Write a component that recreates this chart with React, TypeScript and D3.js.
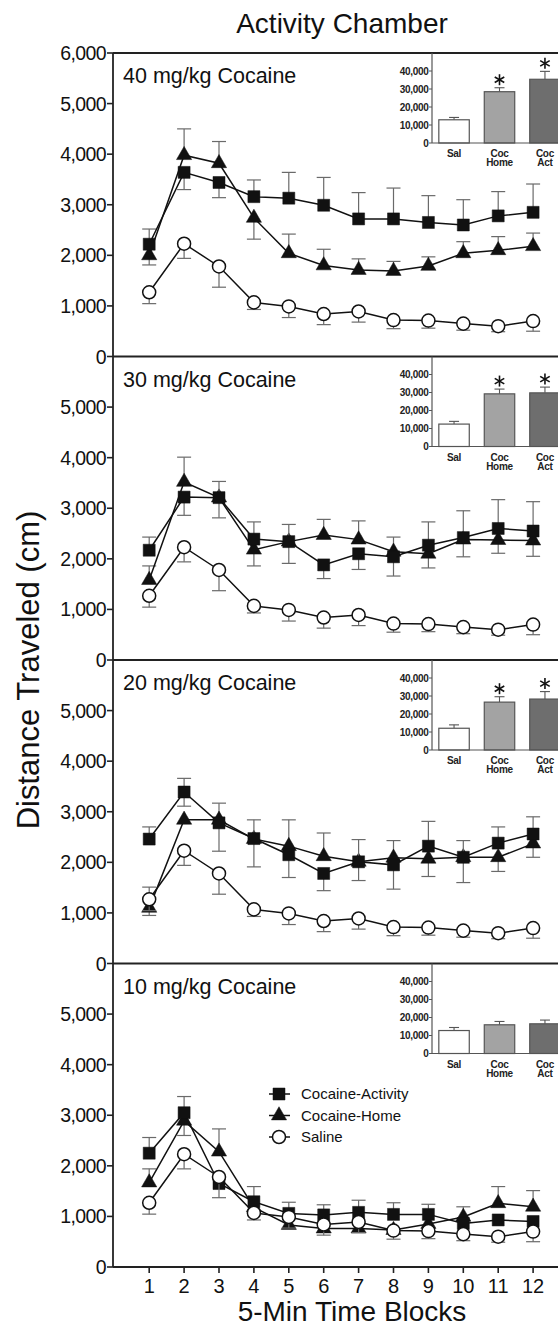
import * as d3 from "d3";

const FONT = "'Liberation Sans', Arial, Helvetica, sans-serif";

const blocks = [1, 2, 3, 4, 5, 6, 7, 8, 9, 10, 11, 12];
const panelLabels = ["40 mg/kg Cocaine", "30 mg/kg Cocaine", "20 mg/kg Cocaine", "10 mg/kg Cocaine"];
const yTicksTop = [0, 1000, 2000, 3000, 4000, 5000, 6000];
const yTicksLower = [0, 1000, 2000, 3000, 4000, 5000];

type Maybe = number | null;
const _ = null;

// Cocaine-Activity (squares), one row per dose panel
const cocActivity = [
  [2220, 3640, 3440, 3160, 3130, 2990, 2720, 2720, 2650, 2600, 2780, 2850],
  [2170, 3220, 3210, 2390, 2340, 1880, 2100, 2040, 2270, 2420, 2600, 2550],
  [2460, 3390, 2780, 2470, 2150, 1780, 2010, 1950, 2320, 2100, 2380, 2560],
  [2250, 3050, 1650, 1290, 1060, 1030, 1080, 1040, 1040, 860, 930, 900],
];
const cocActivityHi: Maybe[][] = [
  [2520, _, _, 3490, 3640, 3540, 3240, 3330, 3180, 3100, 3260, 3410],
  [2430, _, 3530, 2730, 2680, _, _, _, 2730, 2950, 3170, 3130],
  [2700, 3660, _, 2840, _, _, 2450, _, 2810, 2430, 2700, 2900],
  [2560, 3370, _, 1590, 1280, 1230, 1320, 1270, 1240, _, _, _],
];
const cocActivityLo: Maybe[][] = [
  [_, 3300, 3140, _, _, _, _, _, _, _, _, _],
  [_, 2860, 2810, _, 1910, 1610, 1790, 1660, _, _, _, _],
  [_, 3110, 2220, _, 1700, 1440, 1640, 1470, _, 1600, _, _],
  [_, _, _, _, _, _, _, _, _, _, _, _],
];

// Cocaine-Home (triangles)
const cocHome = [
  [2000, 3980, 3820, 2740, 2040, 1800, 1710, 1690, 1790, 2040, 2100, 2180],
  [1580, 3520, 3210, 2180, 2340, 2470, 2380, 2140, 2100, 2380, 2370, 2360],
  [1100, 2840, 2840, 2460, 2320, 2120, 2010, 2090, 2070, 2100, 2100, 2370],
  [1670, 2890, 2280, 1180, 830, 760, 760, 730, 850, 990, 1260, 1190],
];
const cocHomeHi: Maybe[][] = [
  [_, 4500, 4250, _, 2420, 2120, 1930, 1880, 1970, 2270, 2370, 2440],
  [1860, 4010, _, _, _, 2780, 2750, 2430, _, _, _, _],
  [1510, _, 3170, _, 2840, 2580, _, 2430, _, _, _, _],
  [1940, _, 2730, _, _, _, _, _, _, 1190, 1590, 1510],
];
const cocHomeLo: Maybe[][] = [
  [1810, _, _, 2320, _, _, _, _, _, _, _, _],
  [_, _, _, 1860, _, _, _, _, 1820, 2040, 2110, 2050],
  [950, _, _, 1910, _, _, _, _, 1720, _, 1820, 2100],
  [_, 2600, _, _, _, _, _, _, _, _, _, _],
];

// Saline (open circles), same group in every panel
const saline = [1270, 2230, 1780, 1070, 990, 840, 890, 720, 710, 650, 600, 700];
const salineLo = [1045, 1940, 1370, 930, 770, 630, 680, 550, 560, 520, 490, 500];

// inset: total distance
const insetGroups = ["Sal", "Coc Home", "Coc Act"];
const insetLabels = [["Sal"], ["Coc", "Home"], ["Coc", "Act"]];
const insetFills = ["#ffffff", "#a3a3a3", "#6e6e6e"];
const insetTicks = [0, 10000, 20000, 30000, 40000];
const insetTotals = [
  [12900, 28500, 35400],
  [12450, 29250, 29800],
  [12080, 26600, 28300],
  [12760, 15950, 16500],
];
const insetErr = [
  [14200, 30700, 39800],
  [13960, 31900, 33000],
  [13960, 29600, 32450],
  [14450, 17800, 18570],
];
const insetSig = [
  [false, true, true],
  [false, true, true],
  [false, true, true],
  [false, false, false],
];

const legendItems = ["Cocaine-Activity", "Cocaine-Home", "Saline"];

const W = 558;
const H = 1328;
const X0 = 113;
const PANEL_TOP = 53;
const PANEL_H = 303.5;
const fmt = d3.format(",");

const x = d3.scaleLinear().domain([0, 13]).range([114.3, 114.3 + 13 * 34.9]);

const squarePath = d3.symbol().type(d3.symbolSquare).size(144)() ?? "";
const trianglePath = d3.symbol().type(d3.symbolTriangle).size(100)() ?? "";
const circlePath = d3.symbol().type(d3.symbolCircle).size(133)() ?? "";

function ErrorBars({ means, caps, y }: { means: number[]; caps: Maybe[]; y: d3.ScaleLinear<number, number> }) {
  return (
    <g stroke="#6a6a6a" strokeWidth={1.2}>
      {means.map((m, i) => {
        const c = caps[i];
        if (c == null) return null;
        const cx = x(blocks[i]);
        return (
          <g key={i}>
            <line x1={cx} x2={cx} y1={y(m)} y2={y(c)} />
            <line x1={cx - 7} x2={cx + 7} y1={y(c)} y2={y(c)} />
          </g>
        );
      })}
    </g>
  );
}

function Series({
  means,
  y,
  marker,
  fill,
}: {
  means: number[];
  y: d3.ScaleLinear<number, number>;
  marker: string;
  fill: string;
}) {
  const line = d3
    .line<number>()
    .x((_, i) => x(blocks[i]))
    .y((d) => y(d));
  return (
    <g>
      <path d={line(means) ?? ""} fill="none" stroke="#111" strokeWidth={1.5} />
      {means.map((m, i) => (
        <path
          key={i}
          d={marker}
          transform={`translate(${x(blocks[i])},${y(m)})`}
          fill={fill}
          stroke="#111"
          strokeWidth={fill === "#fff" ? 1.5 : 0.5}
        />
      ))}
    </g>
  );
}

function Star({ cx, cy, r }: { cx: number; cy: number; r: number }) {
  const angles = [90, 30, -30];
  return (
    <g stroke="#111" strokeWidth={1.6}>
      {angles.map((a) => {
        const rad = (a * Math.PI) / 180;
        const dx = Math.cos(rad) * r;
        const ddy = Math.sin(rad) * r;
        return <line key={a} x1={cx - dx} y1={cy - ddy} x2={cx + dx} y2={cy + ddy} />;
      })}
    </g>
  );
}

function Inset({ p, top }: { p: number; top: number }) {
  const ax = 432;
  const yi = d3.scaleLinear().domain([0, 50000]).range([top + 90, top]);
  const xb = d3
    .scaleBand<string>()
    .domain(insetGroups)
    .range([ax, 567])
    .paddingInner(0.33)
    .paddingOuter(0.15);
  return (
    <g fontFamily={FONT}>
      {insetGroups.map((g, i) => {
        const bx = xb(g) ?? 0;
        const bw = xb.bandwidth();
        const cx = bx + bw / 2;
        const errY = yi(insetErr[p][i]);
        return (
          <g key={g}>
            <line x1={cx} x2={cx} y1={yi(insetTotals[p][i])} y2={errY} stroke="#555" strokeWidth={1.1} />
            <line x1={cx - 5} x2={cx + 5} y1={errY} y2={errY} stroke="#555" strokeWidth={1.1} />
            <rect
              x={bx}
              y={yi(insetTotals[p][i])}
              width={bw}
              height={yi(0) - yi(insetTotals[p][i])}
              fill={insetFills[i]}
              stroke="#555"
              strokeWidth={1.2}
            />
            {insetSig[p][i] && <Star cx={cx} cy={errY - 8} r={5.5} />}
            {insetLabels[i].map((t, j) => (
              <text
                key={t}
                x={cx}
                y={top + 104 + j * 9}
                fontSize={10}
                fontWeight="bold"
                textAnchor="middle"
                fill="#222"
                letterSpacing={-0.3}
              >
                {t}
              </text>
            ))}
          </g>
        );
      })}
      <line x1={ax} x2={W} y1={yi(0)} y2={yi(0)} stroke="#555" strokeWidth={1.2} />
      <line x1={ax} x2={ax} y1={top} y2={yi(0)} stroke="#555" strokeWidth={1.2} />
      {insetTicks.map((t) => (
        <g key={t}>
          <line x1={ax - 3} x2={ax} y1={yi(t)} y2={yi(t)} stroke="#555" strokeWidth={1} />
          <text
            x={ax - 3.5}
            y={yi(t)}
            dy="0.35em"
            fontSize={10}
            fontWeight="bold"
            textAnchor="end"
            fill="#222"
            letterSpacing={-0.3}
          >
            {fmt(t)}
          </text>
        </g>
      ))}
    </g>
  );
}

function Panel({ p }: { p: number }) {
  const top = PANEL_TOP + p * PANEL_H;
  const y = d3.scaleLinear().domain([0, 6000]).range([top + PANEL_H, top]);
  const ticks = p === 0 ? yTicksTop : yTicksLower;
  return (
    <g>
      <Inset p={p} top={top} />
      <text x={123} y={top + 30} fontSize={21.5} fontFamily={FONT} fill="#111">
        {panelLabels[p]}
      </text>
      {ticks.map((t) => (
        <g key={t}>
          <line x1={X0 - 6} x2={X0} y1={y(t)} y2={y(t)} stroke="#222" strokeWidth={1.6} />
          <text
            x={X0 - 7}
            y={y(t)}
            dy="0.36em"
            fontSize={19.5}
            fontFamily={FONT}
            textAnchor="end"
            fill="#111"
            letterSpacing={-0.6}
          >
            {fmt(t)}
          </text>
        </g>
      ))}
      <line x1={X0} x2={W} y1={y(0)} y2={y(0)} stroke="#222" strokeWidth={1.8} />

      <ErrorBars means={cocHome[p]} caps={cocHomeHi[p]} y={y} />
      <ErrorBars means={cocHome[p]} caps={cocHomeLo[p]} y={y} />
      <Series means={cocHome[p]} y={y} marker={trianglePath} fill="#111" />

      <ErrorBars means={cocActivity[p]} caps={cocActivityHi[p]} y={y} />
      <ErrorBars means={cocActivity[p]} caps={cocActivityLo[p]} y={y} />
      <Series means={cocActivity[p]} y={y} marker={squarePath} fill="#111" />

      <ErrorBars means={saline} caps={salineLo} y={y} />
      <Series means={saline} y={y} marker={circlePath} fill="#fff" />
    </g>
  );
}

export default function App() {
  const bottom = PANEL_TOP + 4 * PANEL_H;
  const legendMarkers = [squarePath, trianglePath, circlePath];
  const legendFills = ["#111", "#111", "#fff"];
  return (
    <svg
      width={W}
      height={H}
      style={{ position: "absolute", left: 0, top: 0, background: "#fff" }}
      fontFamily={FONT}
    >
      <rect x={0} y={0} width={W} height={H} fill="#fff" />
      <text x={342} y={33} fontSize={28} textAnchor="middle" fill="#111">
        Activity Chamber
      </text>
      <text
        transform={`translate(39,670) rotate(-90)`}
        fontSize={31}
        textAnchor="middle"
        fill="#111"
      >
        Distance Traveled (cm)
      </text>

      <line x1={X0} x2={W} y1={PANEL_TOP} y2={PANEL_TOP} stroke="#222" strokeWidth={1.8} />
      {panelLabels.map((_, p) => (
        <Panel key={p} p={p} />
      ))}
      <line x1={X0} x2={X0} y1={PANEL_TOP} y2={bottom} stroke="#222" strokeWidth={1.8} />

      {blocks.map((b) => (
        <g key={b}>
          <line x1={x(b)} x2={x(b)} y1={bottom} y2={bottom + 6} stroke="#222" strokeWidth={1.6} />
          <text x={x(b)} y={bottom + 26} fontSize={20} textAnchor="middle" fill="#111">
            {b}
          </text>
        </g>
      ))}
      <text x={352} y={1321} fontSize={28} textAnchor="middle" fill="#111">
        5-Min Time Blocks
      </text>

      {legendItems.map((item, i) => {
        const cy = 1094 + i * 21.5;
        return (
          <g key={item}>
            <line x1={269} x2={290} y1={cy} y2={cy} stroke="#111" strokeWidth={1.5} />
            <path
              d={legendMarkers[i]}
              transform={`translate(279,${cy})`}
              fill={legendFills[i]}
              stroke="#111"
              strokeWidth={legendFills[i] === "#fff" ? 1.5 : 0.5}
            />
            <text x={301} y={cy} dy="0.36em" fontSize={15} fill="#111">
              {item}
            </text>
          </g>
        );
      })}
    </svg>
  );
}
